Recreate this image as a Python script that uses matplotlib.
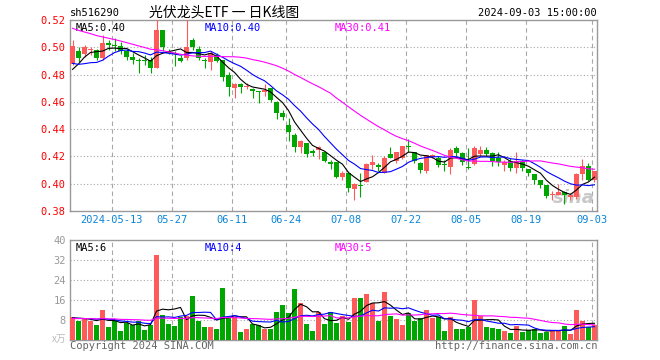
import matplotlib
matplotlib.use("Agg")
import matplotlib.pyplot as plt
import numpy as np
import pandas as pd

plt.rcParams['font.family'] = ['DejaVu Sans Mono', 'Noto Sans CJK SC']

# trading days shown
dates = (["2024-04-29", "2024-04-30"]
         + ["2024-05-%02d" % d for d in [6, 7, 8, 9, 10, 13, 14, 15, 16, 17, 20, 21, 22, 23, 24, 27, 28, 29, 30, 31]]
         + ["2024-06-%02d" % d for d in [3, 4, 5, 6, 7, 11, 12, 13, 14, 17, 18, 19, 20, 21, 24, 25, 26, 27, 28]]
         + ["2024-07-%02d" % d for d in [1, 2, 3, 4, 5, 8, 9, 10, 11, 12, 15, 16, 17, 18, 19, 22, 23, 24, 25, 26, 29, 30, 31]]
         + ["2024-08-%02d" % d for d in [1, 2, 5, 6, 7, 8, 9, 12, 13, 14, 15, 16, 19, 20, 21, 22, 23, 26, 27, 28, 29, 30]]
         + ["2024-09-02", "2024-09-03"])

opens = [0.488, 0.497, 0.495, 0.498, 0.498, 0.492, 0.503, 0.502, 0.501, 0.497,
         0.493, 0.491, 0.491, 0.491, 0.485, 0.513, 0.497, 0.496, 0.492, 0.492,
         0.505, 0.499, 0.491, 0.489, 0.494, 0.491, 0.480, 0.4705, 0.473, 0.471,
         0.4695, 0.4675, 0.467, 0.470, 0.460, 0.4515, 0.443, 0.4355, 0.427, 0.4295,
         0.424, 0.4245, 0.4235, 0.416, 0.416, 0.405, 0.4075, 0.396, 0.399, 0.4015,
         0.4135, 0.4135, 0.408, 0.422, 0.417, 0.4185, 0.4275, 0.423, 0.4155, 0.409,
         0.4195, 0.4185, 0.4145, 0.412, 0.4265, 0.4225, 0.412, 0.4145, 0.422, 0.425,
         0.4225, 0.419, 0.4135, 0.417, 0.4115, 0.417, 0.4105, 0.407, 0.403, 0.399,
         0.392, 0.3915, 0.394, 0.3905, 0.390, 0.407, 0.413, 0.403]
closes = [0.501, 0.492, 0.500, 0.499, 0.492, 0.503, 0.502, 0.501, 0.497, 0.493,
          0.491, 0.490, 0.490, 0.485, 0.513, 0.500, 0.496, 0.495, 0.490, 0.500,
          0.500, 0.492, 0.490, 0.496, 0.490, 0.478, 0.471, 0.473, 0.471, 0.4715,
          0.468, 0.467, 0.469, 0.461, 0.4515, 0.449, 0.438, 0.427, 0.431, 0.422,
          0.4225, 0.427, 0.417, 0.4145, 0.405, 0.408, 0.3965, 0.400, 0.3985, 0.4145,
          0.416, 0.412, 0.419, 0.419, 0.4235, 0.4275, 0.427, 0.417, 0.410, 0.421,
          0.421, 0.4135, 0.414, 0.4245, 0.4225, 0.416, 0.4115, 0.4265, 0.425, 0.422,
          0.4165, 0.416, 0.416, 0.4115, 0.417, 0.4115, 0.408, 0.403, 0.399, 0.391,
          0.3925, 0.394, 0.3915, 0.392, 0.407, 0.413, 0.403, 0.409]
highs = [0.505, 0.500, 0.502, 0.500, 0.499, 0.509, 0.505, 0.507, 0.504, 0.499,
         0.496, 0.492, 0.494, 0.493, 0.524, 0.513, 0.499, 0.497, 0.494, 0.522,
         0.507, 0.501, 0.492, 0.497, 0.496, 0.491, 0.482, 0.474, 0.474, 0.4735,
         0.470, 0.468, 0.473, 0.4705, 0.4605, 0.454, 0.448, 0.437, 0.432, 0.4295,
         0.4255, 0.4275, 0.4235, 0.4175, 0.416, 0.409, 0.409, 0.4005, 0.4075, 0.4155,
         0.421, 0.4155, 0.420, 0.427, 0.4235, 0.428, 0.4325, 0.4235, 0.416, 0.421,
         0.422, 0.420, 0.4175, 0.4265, 0.4275, 0.4235, 0.426, 0.4275, 0.4275, 0.427,
         0.4235, 0.4235, 0.4175, 0.4185, 0.423, 0.4175, 0.411, 0.407, 0.403, 0.399,
         0.395, 0.3995, 0.3945, 0.3935, 0.408, 0.418, 0.4155, 0.409]
lows = [0.487, 0.489, 0.493, 0.494, 0.491, 0.491, 0.498, 0.497, 0.495, 0.491,
        0.488, 0.481, 0.487, 0.481, 0.485, 0.497, 0.495, 0.486, 0.489, 0.491,
        0.498, 0.491, 0.485, 0.483, 0.489, 0.4755, 0.464, 0.4625, 0.4665, 0.4695,
        0.4625, 0.4595, 0.464, 0.460, 0.4475, 0.4465, 0.431, 0.4235, 0.4225, 0.4195,
        0.420, 0.418, 0.416, 0.411, 0.4045, 0.4025, 0.394, 0.388, 0.3905, 0.401,
        0.411, 0.409, 0.408, 0.419, 0.415, 0.418, 0.4235, 0.415, 0.4075, 0.4075,
        0.4185, 0.4125, 0.409, 0.407, 0.420, 0.4135, 0.4105, 0.414, 0.420, 0.420,
        0.413, 0.413, 0.4095, 0.409, 0.4075, 0.409, 0.406, 0.400, 0.3965, 0.3895,
        0.388, 0.3915, 0.385, 0.388, 0.389, 0.403, 0.402, 0.401]
volumes = [9.1, 7.7, 8.3, 7.7, 6.0, 12.0, 5.2, 8.0, 3.6, 6.9,
           6.0, 7.7, 4.0, 6.0, 34.0, 10.0, 6.4, 5.6, 9.1, 9.6,
           17.6, 7.7, 5.2, 5.2, 4.4, 20.8, 8.7, 9.3, 3.3, 4.3,
           6.4, 6.0, 4.3, 4.4, 11.3, 14.0, 10.9, 20.4, 14.9, 6.4,
           3.7, 11.2, 6.4, 11.2, 6.9, 9.6, 7.3, 16.8, 16.8, 18.4,
           14.7, 7.7, 19.3, 9.6, 8.4, 6.0, 10.9, 7.7, 8.7, 12.0,
           8.7, 9.1, 3.7, 9.3, 4.4, 4.4, 5.3, 16.0, 9.6, 5.3,
           4.7, 4.4, 3.7, 2.9, 5.6, 3.3, 4.0, 4.4, 2.9, 3.3,
           4.0, 4.0, 5.6, 2.4, 12.0, 7.7, 5.3, 6.1]

# sessions before the window, only needed to seed the moving averages
prior_close = [0.537, 0.536, 0.535, 0.534, 0.533, 0.531, 0.530, 0.529, 0.528, 0.527,
               0.526, 0.525, 0.524, 0.523, 0.522, 0.521, 0.520, 0.519, 0.518, 0.517,
               0.499, 0.495, 0.492, 0.490, 0.487, 0.472, 0.475, 0.482, 0.489]
prior_volume = [9.2, 7.8, 8.4, 10.1, 7.5, 8.9, 8.0, 9.6, 7.7, 8.3,
                9.0, 8.6, 7.9, 8.8, 9.4, 8.1, 7.6, 8.7, 9.3, 8.2,
                8.5, 9.1, 7.8, 8.6, 9.0, 8.4, 8.9, 9.2, 8.7]

date_ticks = ["2024-05-13", "2024-05-27", "2024-06-11", "2024-06-24", "2024-07-08",
              "2024-07-22", "2024-08-05", "2024-08-19", "2024-09-03"]
date_tick_labels = ["2024-05-13", "05-27", "06-11", "06-24", "07-08",
                    "07-22", "08-05", "08-19", "09-03"]

UP = '#FF5A5A'
DOWN = '#00A600'
GRID = '#A8A8A8'

n = len(closes)
x = np.arange(n)
o = np.array(opens); c = np.array(closes); h = np.array(highs); l = np.array(lows)
col = np.where(c >= o, UP, DOWN)

def ma(prior, vals, w):
    s = pd.Series(list(prior) + list(vals)).rolling(w).mean()
    return s.values[len(prior):]

fig = plt.figure(figsize=(6.6, 3.6), dpi=100)
W, H = 660, 360
ax1 = fig.add_axes([70 / W, 1 - 211 / H, 527 / W, 191 / H])
ax2 = fig.add_axes([70 / W, 1 - 340 / H, 527 / W, 100 / H])

xlo, xhi = -0.42, n - 0.58
tick_pos = [dates.index(d) - 0.42 for d in date_ticks]

# price panel
ax1.vlines(x, l, h, colors=col, lw=0.8, zorder=3)
body = np.maximum(np.abs(c - o), 0.0006)
ax1.bar(x, body, bottom=np.minimum(o, c), width=0.8, color=col, lw=0, zorder=4)
ax1.plot(x, ma(prior_close, closes, 5), color='black', lw=0.8, zorder=5)
ax1.plot(x, ma(prior_close, closes, 10), color='#0000FF', lw=0.8, zorder=5)
ax1.plot(x, ma(prior_close, closes, 30), color='#FF00FF', lw=0.8, zorder=5)
ax1.set_xlim(xlo, xhi)
ax1.set_ylim(0.38, 0.52)
yt = np.round(np.arange(0.38, 0.5201, 0.02), 2)
ax1.set_yticks(yt)
ax1.set_yticklabels(["%.2f" % v for v in yt], color='#FF0000', fontsize=7.5)
for v in yt[1:-1]:
    ax1.axhline(v, color=GRID, lw=0.8, ls=(0, (1, 2)), zorder=1)
for p in tick_pos:
    ax1.axvline(p, color=GRID, lw=0.8, ls=(0, (4, 3)), zorder=1)
ax1.set_xticks(tick_pos)
ax1.set_xticklabels(date_tick_labels, color='#0A85D9', fontsize=7.5)
ax1.tick_params(length=0, pad=3)
ax1.text(0.01, 0.985, "MA5:0.40", transform=ax1.transAxes, color='black', fontsize=7.5, va='top')
ax1.text(0.256, 0.985, "MA10:0.40", transform=ax1.transAxes, color='#0000FF', fontsize=7.5, va='top')
ax1.text(0.503, 0.985, "MA30:0.41", transform=ax1.transAxes, color='#FF00FF', fontsize=7.5, va='top')
ax1.text(0.995, 0.02, "sina", transform=ax1.transAxes, color='#C8C8C8', fontsize=13,
         style='italic', fontweight='bold', ha='right', va='bottom', family='DejaVu Sans', zorder=2)

# volume panel
ax2.bar(x, volumes, width=0.8, color=col, lw=0, zorder=3)
ax2.plot(x, ma(prior_volume, volumes, 5), color='black', lw=0.8, zorder=5)
ax2.plot(x, ma(prior_volume, volumes, 10), color='#0000FF', lw=0.8, zorder=5)
ax2.plot(x, ma(prior_volume, volumes, 30), color='#FF00FF', lw=0.8, zorder=5)
ax2.set_xlim(xlo, xhi)
ax2.set_ylim(0, 40)
vt = [8, 16, 24, 32, 40]
ax2.set_yticks(vt)
ax2.set_yticklabels([str(v) for v in vt], color='#999999', fontsize=7.5)
for v in vt[:-1]:
    ax2.axhline(v, color=GRID, lw=0.8, ls=(0, (1, 2)), zorder=1)
for p in tick_pos:
    ax2.axvline(p, color=GRID, lw=0.8, ls=(0, (4, 3)), zorder=1)
ax2.set_xticks([])
ax2.tick_params(length=0, pad=3)
ax2.text(0.01, 0.97, "MA5:6", transform=ax2.transAxes, color='black', fontsize=7.5, va='top')
ax2.text(0.256, 0.97, "MA10:4", transform=ax2.transAxes, color='#0000FF', fontsize=7.5, va='top')
ax2.text(0.503, 0.97, "MA30:5", transform=ax2.transAxes, color='#FF00FF', fontsize=7.5, va='top')

for ax in (ax1, ax2):
    for s in ax.spines.values():
        s.set_color('#999999')
        s.set_linewidth(1.0)

# header and footer
fig.text(70 / W, 1 - 13 / H, "sh516290", fontsize=7.5, color='black', va='center')
fig.text(224 / W, 1 - 13 / H, "光伏龙头ETF 一 日K线图", fontsize=10, color='black',
         va='center', ha='center', family=['Noto Sans CJK SC', 'DejaVu Sans'])
fig.text(597 / W, 1 - 13 / H, "2024-09-03 15:00:00", fontsize=7.5, color='black', va='center', ha='right')
fig.text(70 / W, 1 - 346 / H, "Copyright 2024 SINA.COM", fontsize=7.5, color='#666666', va='center')
fig.text(597 / W, 1 - 346 / H, "http://finance.sina.com.cn", fontsize=7.5, color='#666666', va='center', ha='right')
fig.text(66 / W, 1 - 339 / H, "x万", fontsize=7, color='#BBBBBB', va='center', ha='right',
         family=['Noto Sans CJK SC', 'DejaVu Sans'])

fig.savefig("out.png", dpi=100)
